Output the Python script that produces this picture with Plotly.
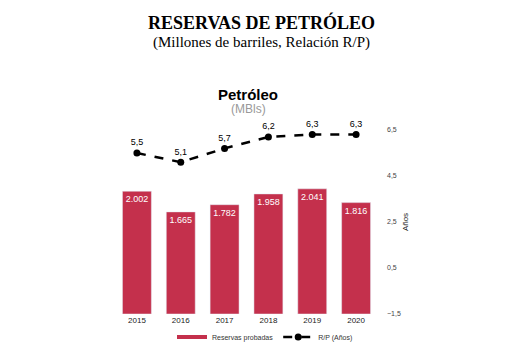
import plotly.graph_objects as go

years = ["2015", "2016", "2017", "2018", "2019", "2020"]
reservas = [2002, 1665, 1782, 1958, 2041, 1816]
rp = [5.5, 5.1, 5.7, 6.2, 6.3, 6.3]
rp_ticks = [-1.5, 0.5, 2.5, 4.5, 6.5]

bar_color = "#C4304C"
sans = "Liberation Sans, Arial, sans-serif"
serif = "Liberation Serif, Times New Roman, serif"

fig = go.Figure()
fig.add_trace(go.Bar(
    x=years, y=reservas, name="Reservas probadas",
    marker_color=bar_color, showlegend=False,
    texttemplate="%{y:,.0f}", textposition="inside", insidetextanchor="end",
    textfont=dict(color="white", size=9, family=sans),
    yaxis="y",
))
# legend entry drawn as a thick line swatch, as in the reference
fig.add_trace(go.Scatter(
    x=[None], y=[None], name="Reservas probadas", mode="lines",
    line=dict(color=bar_color, width=4), yaxis="y",
))
fig.add_trace(go.Scatter(
    x=years, y=rp, name="R/P (Años)", mode="lines+markers+text",
    line=dict(color="black", width=2.5, dash="dash"),
    marker=dict(color="black", size=7),
    texttemplate="%{y:.1f}", textposition="top center",
    textfont=dict(color="black", size=9, family=sans),
    cliponaxis=False,
    yaxis="y2",
))

H = 184.0
def py(ypix):
    return (314 - ypix) / H

def px(xpix):
    return (xpix - 115) / 263.0

fig.update_layout(
    width=522, height=354,
    margin=dict(l=115, r=144, t=130, b=40, autoexpand=False),
    paper_bgcolor="white", plot_bgcolor="white",
    separators=",.",
    bargap=0.34,
    showlegend=True,
    font=dict(family=sans, size=8, color="#333"),
    xaxis=dict(showgrid=False, showline=False, ticks="", tickfont=dict(size=8, color="#222")),
    yaxis=dict(range=[0, 3000], visible=False),
    yaxis2=dict(range=[-1.5, 6.5], overlaying="y", side="right", tickvals=rp_ticks,
                tickformat=".1f", showgrid=False, zeroline=False, showline=False,
                tickfont=dict(size=7, color="#444"), ticklabelstandoff=8,
                title=dict(text="Años", font=dict(size=8, color="#222"), standoff=2)),
    legend=dict(orientation="h", xref="container", yref="container",
                x=172 / 522.0, xanchor="left",
                y=1 - 337 / 354.0, yanchor="middle", font=dict(size=7, color="#333"),
                itemwidth=30, bgcolor="rgba(0,0,0,0)", tracegroupgap=0),
    annotations=[
        dict(text="<b>RESERVAS DE PETRÓLEO</b>", xref="paper", yref="paper",
             x=px(261), y=py(22), xanchor="center", yanchor="middle", showarrow=False,
             font=dict(family=serif, size=18, color="black")),
        dict(text="(Millones de barriles, Relación R/P)", xref="paper", yref="paper",
             x=px(261), y=py(42), xanchor="center", yanchor="middle", showarrow=False,
             font=dict(family=serif, size=15, color="black")),
        dict(text="<b>Petróleo</b>", xref="paper", yref="paper",
             x=px(248), y=py(94), xanchor="center", yanchor="middle", showarrow=False,
             font=dict(family=sans, size=15, color="black")),
        dict(text="(MBls)", xref="paper", yref="paper",
             x=px(248), y=py(109), xanchor="center", yanchor="middle", showarrow=False,
             font=dict(family=sans, size=12, color="#999")),
    ],
)

fig.write_html("out.html")
